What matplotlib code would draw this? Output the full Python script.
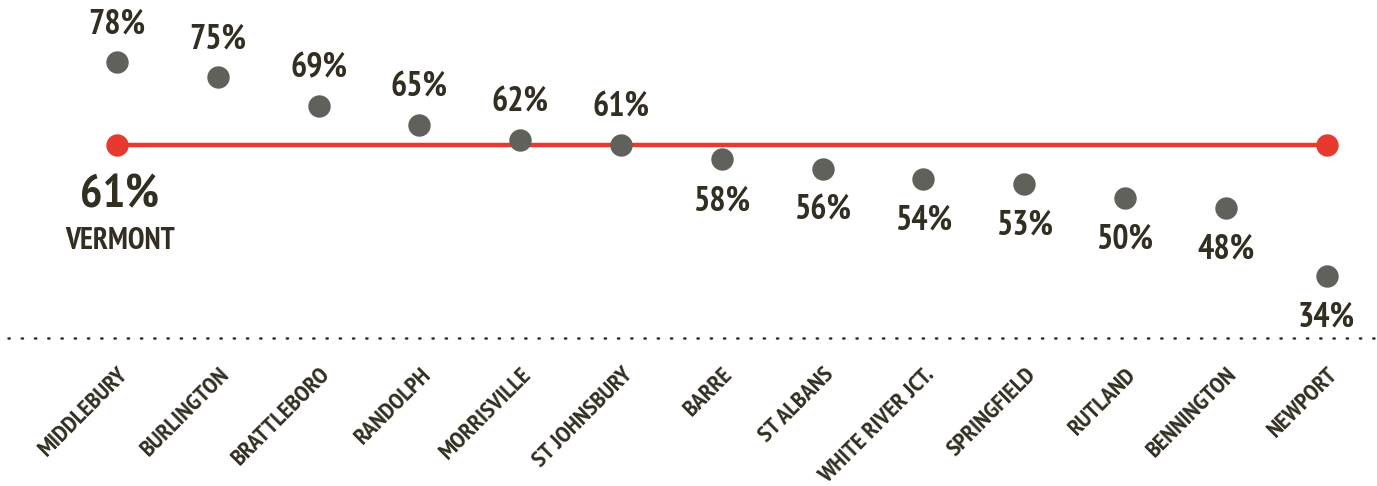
import matplotlib.pyplot as plt

towns = ["MIDDLEBURY", "BURLINGTON", "BRATTLEBORO", "RANDOLPH", "MORRISVILLE",
         "ST JOHNSBURY", "BARRE", "ST ALBANS", "WHITE RIVER JCT.", "SPRINGFIELD",
         "RUTLAND", "BENNINGTON", "NEWPORT"]
rates = [78, 75, 69, 65, 62, 61, 58, 56, 54, 53, 50, 48, 34]
vermont_rate = 61

# narrow bold face, falls back if missing
plt.rcParams["font.family"] = ["PT Sans Narrow", "Roboto Condensed", "DejaVu Sans"]

text_col = "#332e22"
dot_col = "#60615b"
red = "#e8392f"

fig = plt.figure(figsize=(13.77, 4.86), dpi=100)
ax = fig.add_axes([0, 0, 1, 1])
ax.set_xlim(-1.16, 12.5)
ax.set_ylim(-9.2, 90.8)
ax.axis("off")

xs = list(range(len(towns)))

# state average line
ax.plot([xs[0], xs[-1]], [vermont_rate, vermont_rate], color=red, lw=3.2, zorder=1)
ax.scatter([xs[0], xs[-1]], [vermont_rate, vermont_rate], s=260, color=red, zorder=2,
           linewidths=0)
ax.annotate(f"{vermont_rate}%", (xs[0], vermont_rate), xytext=(2, -36),
            textcoords="offset points", ha="center", va="center",
            fontsize=34, fontweight="bold", color=text_col)
ax.annotate("VERMONT", (xs[0], vermont_rate), xytext=(2, -69),
            textcoords="offset points", ha="center", va="center",
            fontsize=21.5, fontweight="bold", color=text_col)

# town dots and value labels
ax.scatter(xs, rates, s=260, color=dot_col, zorder=3, linewidths=0)
for i, (x, r) in enumerate(zip(xs, rates)):
    dy = 27 if i < 6 else -30
    ax.annotate(f"{r}%", (x, r), xytext=(0, dy), textcoords="offset points",
                ha="center", va="center", fontsize=24.5, fontweight="bold",
                color=text_col)

# dotted baseline
ax.plot([-1.08, 12.5], [21.3, 21.3], color=text_col, lw=1.8,
        linestyle=(0, (0.5, 4.8)), dash_capstyle="round")

# rotated town names
for x, name in zip(xs, towns):
    ax.text(x + 0.01, 15.9, name, rotation=45, rotation_mode="anchor",
            ha="right", va="top", fontsize=17.5, fontweight="bold", color=text_col)

fig.savefig("out.png", dpi=100)
